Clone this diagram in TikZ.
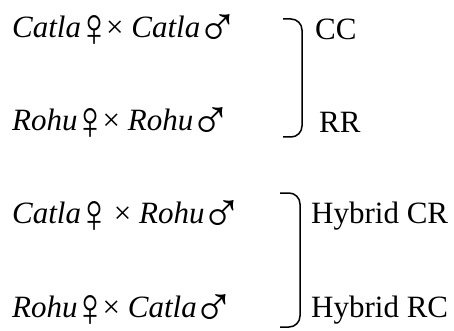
\documentclass[tikz,border=0pt]{standalone}
\usepackage{fontspec}
\setmainfont{Liberation Serif}
\usetikzlibrary{positioning}

\newcommand{\crossfont}{\fontsize{31}{37}\selectfont}
\newcommand{\fem}{\hspace{-4pt}\raisebox{-9pt}{\resizebox*{34pt}{31pt}{\raisebox{\depth}{♀}}}\hspace{-5pt}}
\newcommand{\mal}{\hspace{-4pt}\raisebox{-9pt}{\resizebox*{43pt}{32pt}{\raisebox{\depth}{♂}}}\hspace{-9pt}}

\begin{document}
\begin{tikzpicture}[
    x=1pt, y=-1pt,
    cross/.style={anchor=base west, inner sep=0pt, font=\crossfont},
    progeny/.style={anchor=base west, inner sep=0pt, font=\crossfont},
    brace/.style={line width=1.5pt, rounded corners=11pt}
  ]
    \useasboundingbox (0,0) rectangle (454,331);

    % crosses
    \node[cross] (cc) at (12,38) {\textit{Catla}\fem× \textit{Catla}\mal};
    \node[cross] (rr) at (12,131) {\textit{Rohu}\fem× \textit{Rohu}\mal};
    \node[cross] (cr) at (12,223) {\textit{Catla}\fem\ × \textit{Rohu}\mal};
    \node[cross] (rc) at (12,317) {\textit{Rohu}\fem× \textit{Catla}\mal};

    % progeny
    \node[progeny] (ccl) at (315,40) {CC};
    \node[progeny] (rrl) at (319,132) {RR};
    \node[progeny] (crl) at (311,223) {Hybrid CR};
    \node[progeny] (rcl) at (311,317) {Hybrid RC};

    % brackets
    \foreach \xa/\xb/\ya/\yb in {283/302/19/137, 280/300/193/327}
      \draw[brace] (\xa,\ya) -- (\xb,\ya) -- (\xb,\yb) -- (\xa,\yb);
\end{tikzpicture}
\end{document}
